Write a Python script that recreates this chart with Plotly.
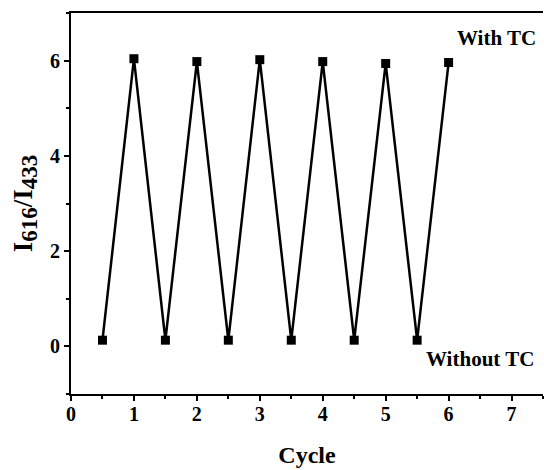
import plotly.graph_objects as go

cycle = [0.5, 1, 1.5, 2, 2.5, 3, 3.5, 4, 4.5, 5, 5.5, 6]
ratio = [0.13, 6.04, 0.13, 5.98, 0.13, 6.02, 0.13, 5.98, 0.13, 5.94, 0.13, 5.96]
x_ticks = [0, 1, 2, 3, 4, 5, 6, 7]
y_ticks = [0, 2, 4, 6]

font_family = "Liberation Serif"

fig = go.Figure()
fig.add_trace(go.Scatter(
    x=cycle, y=ratio, mode="lines+markers",
    line=dict(color="black", width=2.5),
    marker=dict(symbol="square", size=9, color="black"),
    showlegend=False,
))

axis_common = dict(
    showgrid=False, zeroline=False, showline=True, linecolor="black", linewidth=2,
    ticks="outside", ticklen=5, tickwidth=2, tickcolor="black",
    tickfont=dict(family=font_family, size=20, color="black"),
)
minor_common = dict(ticks="outside", ticklen=3, tickwidth=2, tickcolor="black")

fig.update_xaxes(range=[0, 7.5], tickvals=x_ticks, ticktext=[f"<b>{v}</b>" for v in x_ticks],
                 mirror=True, minor=dict(tickvals=[v + 0.5 for v in x_ticks], **minor_common),
                 ticklabelstandoff=-4,
                 title=dict(text="<b>Cycle</b>", font=dict(family=font_family, size=24, color="black"), standoff=22),
                 **axis_common)
fig.update_yaxes(range=[-1, 7], tickvals=y_ticks, ticktext=[f"<b>{v}</b>" for v in y_ticks],
                 minor=dict(tickvals=[-1, 1, 3, 5, 7], **minor_common),
                 title=dict(text="<b>I<sub><span style='font-size:23px'>616</span></sub>/I<sub><span style='font-size:23px'>433</span></sub></b>",
                            font=dict(family=font_family, size=27, color="black"), standoff=10),
                 **axis_common)

fig.add_annotation(x=0.99, y=0.97, xref="paper", yref="paper", xanchor="right", yanchor="top",
                   text="<b>With TC</b>", showarrow=False,
                   font=dict(family=font_family, size=21, color="black"))
fig.add_annotation(x=0.985, y=0.055, xref="paper", yref="paper", xanchor="right", yanchor="bottom",
                   text="<b>Without TC</b>", showarrow=False,
                   font=dict(family=font_family, size=21, color="black"))

fig.update_layout(
    width=544, height=470,
    margin=dict(l=71, r=1, t=13, b=76),
    plot_bgcolor="white", paper_bgcolor="white",
)

fig.write_html("out.html")
